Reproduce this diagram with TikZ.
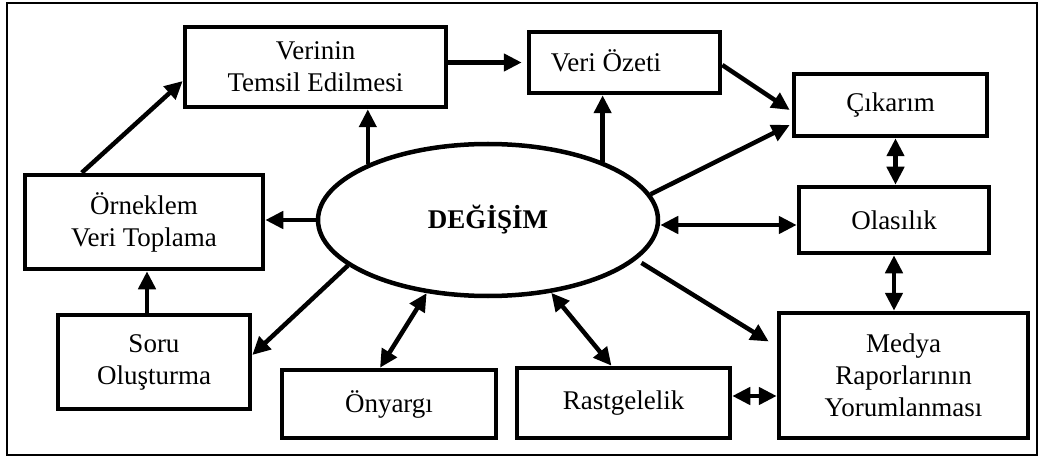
\documentclass[tikz,border=0pt]{standalone}
\usepackage{fontspec}
\setmainfont{Liberation Serif}
\usetikzlibrary{arrows.meta,shapes.geometric}
\begin{document}
\begin{tikzpicture}[x=1pt,y=-1pt,
  box/.style={draw,line width=4.5pt,rectangle,inner sep=0pt,align=center,
    font=\fontsize{27}{32}\selectfont},
  lbl/.style={inner sep=0pt,align=center,font=\fontsize{27}{32}\selectfont},
  arr/.style={line width=4.5pt,-{Triangle[length=18pt,width=17pt]}},
  darr/.style={line width=4.5pt,{Triangle[length=18pt,width=17pt]}-{Triangle[length=18pt,width=17pt]}}]
\useasboundingbox (0,0) rectangle (1039,457);
% outer frame
\draw[line width=1.5pt] (7,3) rectangle (1037,455);

% boxes
\node[box,minimum width=261pt,minimum height=80pt] (vt) at (315.5,67) {Verinin\\Temsil Edilmesi};
\node[box,minimum width=191pt,minimum height=61pt] (vobox) at (624.5,62.5) {};
\node[lbl] (votext) at (606,61) {Veri Özeti};
\node[box,minimum width=193pt,minimum height=62pt] (cik) at (890.5,105) {Çıkarım};
\node[box,minimum width=190pt,minimum height=66pt] (ola) at (894,220) {Olasılık};
\node[box,minimum width=249pt,minimum height=125pt] (medya) at (903.5,375.5) {Medya\\Raporlarının\\Yorumlanması};
\node[box,minimum width=213pt,minimum height=70pt] (rast) at (623.5,403) {Rastgelelik};
\node[box,minimum width=214pt,minimum height=68pt] (ony) at (389,404) {Önyargı};
\node[box,minimum width=192pt,minimum height=94pt] (soru) at (154,362) {Soru\\Oluşturma};
\node[box,minimum width=238pt,minimum height=94pt] (or) at (144,222) {Örneklem\\Veri Toplama};

% central ellipse
\node[draw,ellipse,line width=4.5pt,minimum width=340pt,minimum height=152pt,inner sep=0pt,
  font=\bfseries\fontsize{27}{32}\selectfont] (ell) at (488,220) {DEĞİŞİM};

% connectors
\draw[arr] ([xshift=59pt]or.north west) -- ([yshift=-14pt]vt.west);
\draw[arr] (vt.east |- vobox.west) -- ([xshift=-5pt]vobox.west);
\draw[arr] (ell.155) -- (ell.155 |- vt.south);
\draw[arr] (ell.west) -- (ell.west -| or.east);
\draw[arr] ([xshift=-7pt]soru.north) -- ([xshift=-7pt]soru.north |- or.south);
\draw[arr] (ell.198) -- ([yshift=7pt]soru.east);
\draw[darr] (ell.230) -- ([xshift=-9pt]ony.north);
\draw[darr] (ell.311) -- ([xshift=-12pt]rast.north);
\draw[arr,shorten <=6pt] (ell.345) -- ([xshift=-8pt,yshift=34pt]medya.west);
\draw[darr] ([yshift=7pt]rast.east) -- ([yshift=7pt]rast.east -| medya.west);
\draw[darr] (ola.south) -- (ola.south |- medya.north);
\draw[darr] ([xshift=5pt]cik.south) -- ([xshift=5pt]cik.south |- ola.north);
\draw[darr] ([yshift=-5pt]ell.east) -- ([yshift=-5pt]ell.east -| ola.west);
\draw[arr] (ell.9) -- ([xshift=-2pt,yshift=-20pt]cik.west);
\draw[arr] ([yshift=-2.5pt]vobox.east) -- ([xshift=-2pt,yshift=-5pt]cik.west);
\draw[arr] (ell.27) -- (ell.27 |- vobox.south);
\end{tikzpicture}
\end{document}
